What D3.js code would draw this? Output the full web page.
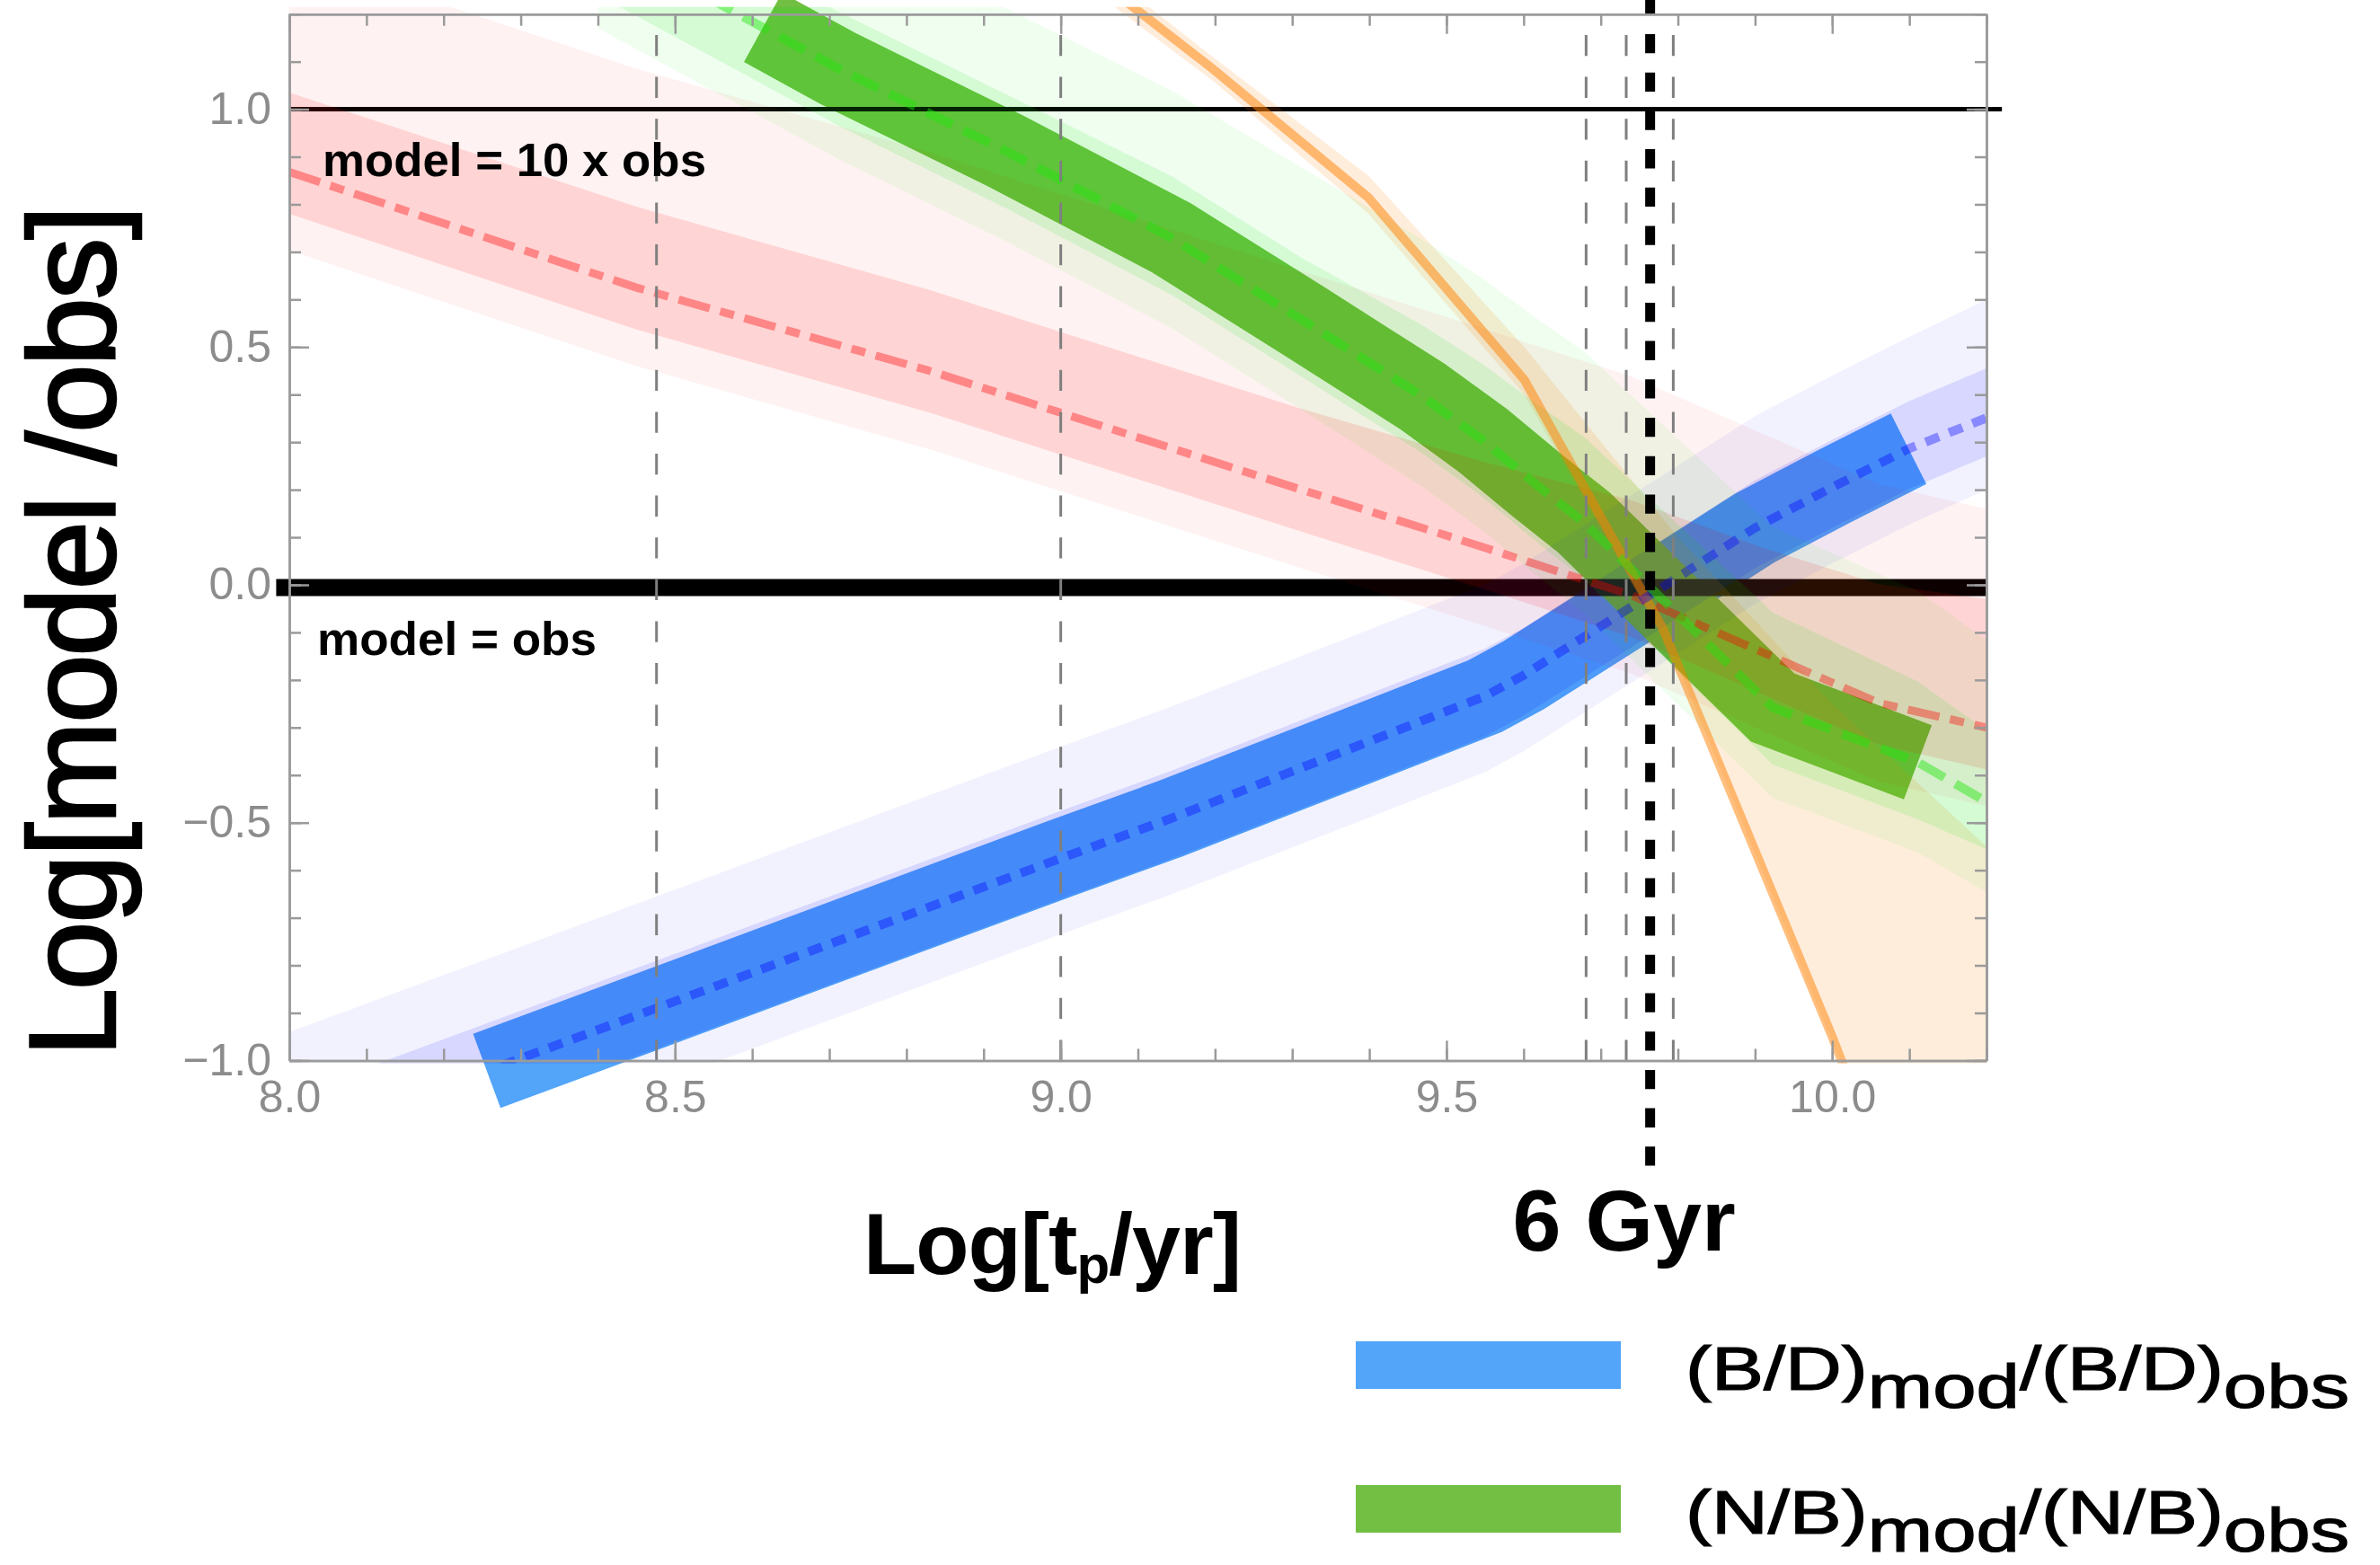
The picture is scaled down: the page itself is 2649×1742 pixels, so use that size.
<!DOCTYPE html>
<html>
<head>
<meta charset="utf-8">
<script src="https://cdn.jsdelivr.net/npm/d3@7"></script>
<style>
  body { margin: 0; background: #fff; }
  svg { display: block; }
  text { font-family: "Liberation Sans", Arial, Helvetica, sans-serif; }
</style>
</head>
<body>
<div class="graph"></div>
<script>
// (B/D)mod/(B/D)obs  - blue
var blueX       = [8.0,   8.256,  8.476, 9.0,    9.14,   9.37,   9.55,   9.60,  9.80,   9.90,  10.0,  10.099, 10.2];
var blueMid     = [-1.175, -1.022, -0.89, -0.575, -0.493, -0.348, -0.234, -0.19, 0.016,  0.12,  0.205, 0.286,  0.351];
var blueInnerHi = [-1.075, -0.922, -0.79, -0.475, -0.393, -0.248, -0.134, -0.09, 0.116,  0.22,  0.305, 0.386,  0.455];
var blueInnerLo = [-1.26,  -1.107, -0.975, -0.66, -0.578, -0.433, -0.319, -0.275, -0.069, 0.035, 0.12, 0.201,  0.27];
var blueOuterHi = [-0.94,  -0.787, -0.655, -0.34, -0.258, -0.113, 0.001,  0.045, 0.251,  0.355, 0.44,  0.521,  0.60];
var blueOuterLo = [-1.335, -1.182, -1.05, -0.735, -0.653, -0.508, -0.394, -0.35, -0.144, -0.04, 0.045, 0.126,  0.20];
var blueThick   = [8.256, 10.099];

// (N/B)mod/(N/B)obs  - green
var greenX       = [8.40, 8.614, 8.712, 8.929, 9.143, 9.314, 9.469, 9.547, 9.617, 9.679, 9.923, 10.111, 10.2];
var greenMid     = [1.36, 1.172, 1.085, 0.912, 0.730, 0.556, 0.396, 0.304, 0.21,  0.13,  -0.258, -0.373, -0.456];
var greenInnerHi = [1.48, 1.292, 1.205, 1.032, 0.86,  0.686, 0.546, 0.464, 0.38,  0.31,  -0.058, -0.203, -0.306];
var greenInnerLo = [1.24, 1.052, 0.965, 0.792, 0.61,  0.436, 0.276, 0.184, 0.09,  0.01,  -0.378, -0.493, -0.556];
var greenOuterHi = [1.66, 1.472, 1.385, 1.212, 1.04,  0.876, 0.726, 0.644, 0.56,  0.49,  0.122,  -0.013, -0.116];
var greenOuterLo = [1.17, 0.982, 0.895, 0.722, 0.54,  0.366, 0.206, 0.114, 0.02,  -0.06, -0.448, -0.563, -0.646];
var greenThick   = [8.614, 10.111];

// red dash-dot model
var redX       = [8.0,   8.45,  8.83,  9.31,  9.55,   9.74,   9.91,   10.06,  10.2];
var redMid     = [0.868, 0.625, 0.45,  0.201, 0.078,  -0.022, -0.142, -0.248, -0.30];
var redInnerHi = [1.035, 0.795, 0.62,  0.371, 0.258,  0.178,  0.078,  0.002,  -0.03];
var redInnerLo = [0.78,  0.537, 0.362, 0.113, -0.01,  -0.11,  -0.23,  -0.336, -0.388];
var redOuterHi = [1.328, 1.085, 0.91,  0.661, 0.538,  0.438,  0.318,  0.212,  0.16];
var redOuterLo = [0.703, 0.46,  0.285, 0.036, -0.087, -0.187, -0.307, -0.413, -0.465];

// orange model
var orangeX      = [9.05, 9.197, 9.399, 9.601, 9.78,  10.0,  10.06];
var orangeMid    = [1.27, 1.085, 0.814, 0.431, -0.09, -0.95, -1.2];
var orangeBandX  = [9.0,  9.197, 9.399, 9.601, 9.80,  10.0,  10.2];
var orangeBandHi = [1.36, 1.11,  0.86,  0.50,  0.10,  -0.25, -0.55];
var orangeBandLo = [1.30, 1.06,  0.78,  0.40,  -0.17, -0.96, -1.75];

// reference levels and ages
var refLevels  = [1.0, 0.0];
var markerAges = [8.476, 9.0, 9.681, 9.733, 9.794];
var sixGyr     = 9.764;

var xTicks = [8.0, 8.5, 9.0, 9.5, 10.0];
var yTicks = [-1.0, -0.5, 0.0, 0.5, 1.0];

var legendLabels = [
  { name: '(B/D)', color: '#52a5f9' },
  { name: '(N/B)', color: '#72bf44' }
];

var width = 2649, height = 1742;

var x = d3.scaleLinear().domain([8, 10.2]).range([322, 2211]);
var y = d3.scaleLinear().domain([-1, 1.2]).range([1180.4, 15.7]);

var svg = d3.select('.graph').append('svg')
  .attr('width', width)
  .attr('height', height);

svg.append('defs').append('clipPath').attr('id', 'plot')
  .append('rect')
  .attr('x', x(8) - 1).attr('y', y(1.2) - 8)
  .attr('width', x(10.2) - x(8) + 9)
  .attr('height', y(-1) - y(1.2) + 11);

var line = d3.line().x(d => x(d[0])).y(d => y(d[1]));
var area = d3.area().x(d => x(d[0])).y0(d => y(d[1])).y1(d => y(d[2]));

function pts(xs, ys) { return xs.map((v, i) => [v, ys[i]]); }

// thick model lines (under the bands)
function thick(xs, ys, range, color) {
  var d = pts(xs, ys).filter(p => p[0] >= range[0] && p[0] <= range[1]);
  svg.append('path').datum(d)
    .attr('d', line)
    .attr('fill', 'none')
    .attr('stroke', color)
    .attr('stroke-width', 88)
    .attr('stroke-linecap', 'butt')
    .attr('stroke-linejoin', 'miter')
    .attr('stroke-miterlimit', 10);
}
thick(blueX, blueMid, blueThick, '#52a5f9');
thick(greenX, greenMid, greenThick, '#72bf44');

// model = obs, model = 10 x obs
svg.append('line')
  .attr('x1', x(7.983)).attr('x2', x(10.2))
  .attr('y1', y(refLevels[1]) + 3).attr('y2', y(refLevels[1]) + 3)
  .attr('stroke', '#000').attr('stroke-width', 19);
svg.append('line')
  .attr('x1', x(8.0)).attr('x2', x(10.22))
  .attr('y1', y(refLevels[0])).attr('y2', y(refLevels[0]))
  .attr('stroke', '#000').attr('stroke-width', 5);

var plot = svg.append('g').attr('clip-path', 'url(#plot)');

function band(xs, lo, hi, color, op) {
  plot.append('path')
    .datum(xs.map((v, i) => [v, lo[i], hi[i]]))
    .attr('d', area)
    .attr('fill', color)
    .attr('fill-opacity', op);
}
band(redX, redOuterLo, redOuterHi, '#ff0000', 0.05);
band(redX, redInnerLo, redInnerHi, '#ff0000', 0.12);
band(orangeBandX, orangeBandLo, orangeBandHi, '#ff8000', 0.14);
band(blueX, blueOuterLo, blueOuterHi, '#0000ff', 0.05);
band(blueX, blueInnerLo, blueInnerHi, '#0000ff', 0.11);
band(greenX, greenOuterLo, greenOuterHi, '#00e600', 0.06);
band(greenX, greenInnerLo, greenInnerHi, '#00e600', 0.11);

function centre(xs, ys, color, w, dash) {
  plot.append('path').datum(pts(xs, ys))
    .attr('d', line)
    .attr('fill', 'none')
    .attr('stroke', color)
    .attr('stroke-width', w)
    .attr('stroke-dasharray', dash);
}
centre(redX, redMid, 'rgba(255,0,0,0.37)', 9, '36 12 16 12');
centre(orangeX, orangeMid, 'rgba(255,128,0,0.5)', 10, null);
centre(blueX, blueMid, 'rgba(0,0,255,0.37)', 10, '16 12');
centre(greenX, greenMid, 'rgba(30,230,10,0.45)', 10, '32 14');

// age markers
svg.selectAll('.age').data(markerAges).enter().append('line')
  .attr('class', 'age')
  .attr('x1', d => x(d)).attr('x2', d => x(d))
  .attr('y1', y(1.2)).attr('y2', y(-1))
  .attr('stroke', '#7f7f7f').attr('stroke-width', 3)
  .attr('stroke-dasharray', '23.3 23.3')
  .attr('stroke-dashoffset', 23.3);

svg.append('line')
  .attr('x1', x(sixGyr)).attr('x2', x(sixGyr))
  .attr('y1', -4.7).attr('y2', 1298)
  .attr('stroke', '#000').attr('stroke-width', 11)
  .attr('stroke-dasharray', '21.3 21.4');

// frame and ticks
var fmt = d3.format('.1f');
var minorX = d3.range(80, 103).map(v => v / 10);
var minorY = d3.range(-10, 13).map(v => v / 10);

function styleAxis(g) {
  g.attr('font-size', 50).attr('font-family', '"Liberation Sans", Arial, Helvetica, sans-serif');
  g.selectAll('line, path').attr('stroke', '#9a9a9a').attr('stroke-width', 2.5);
  g.selectAll('text').attr('fill', '#8c8c8c');
}

function frame(axis, transform, ticks, len, labels, pad) {
  var g = svg.append('g').attr('transform', transform)
    .call(axis.tickValues(ticks).tickSizeInner(-len).tickSizeOuter(0)
      .tickPadding(pad || 0)
      .tickFormat(labels ? fmt : ''));
  styleAxis(g);
  return g;
}

frame(d3.axisBottom(x), 'translate(0,' + y(-1) + ')', minorX, 13, false);
frame(d3.axisBottom(x), 'translate(0,' + y(-1) + ')', xTicks, 22, true, 22);
frame(d3.axisTop(x), 'translate(0,' + y(1.2) + ')', minorX, 13, false);
frame(d3.axisTop(x), 'translate(0,' + y(1.2) + ')', xTicks, 22, false);
frame(d3.axisLeft(y), 'translate(' + x(8) + ',0)', minorY, 13, false);
frame(d3.axisLeft(y), 'translate(' + x(8) + ',0)', yTicks, 22, true, 20);
frame(d3.axisRight(y), 'translate(' + x(10.2) + ',0)', minorY, 13, false);
frame(d3.axisRight(y), 'translate(' + x(10.2) + ',0)', yTicks, 22, false);

// annotations
svg.append('text')
  .attr('x', x(8) + 37).attr('y', y(1) + 74)
  .attr('font-size', 52).attr('font-weight', 'bold')
  .attr('textLength', 427).attr('lengthAdjust', 'spacingAndGlyphs')
  .text('model = 10 x obs');

svg.append('text')
  .attr('x', x(8) + 31).attr('y', y(0) + 78)
  .attr('font-size', 52).attr('font-weight', 'bold')
  .attr('textLength', 311).attr('lengthAdjust', 'spacingAndGlyphs')
  .text('model = obs');

var xt = svg.append('text')
  .attr('x', 961).attr('y', 1418)
  .attr('font-size', 97).attr('font-weight', 'bold')
  .attr('textLength', 421).attr('lengthAdjust', 'spacing');
xt.append('tspan').text('Log[t');
xt.append('tspan').attr('font-size', 60).attr('dy', 10).text('p');
xt.append('tspan').attr('dy', -10).text('/yr]');

svg.append('text')
  .attr('x', x(sixGyr) - 29).attr('y', 1392)
  .attr('text-anchor', 'middle')
  .attr('font-size', 97).attr('font-weight', 'bold')
  .text('6 Gyr');

svg.append('text')
  .attr('transform', 'translate(128,1176.5) rotate(-90)')
  .attr('font-size', 138)
  .attr('stroke', '#000').attr('stroke-width', 2.5)
  .attr('textLength', 948).attr('lengthAdjust', 'spacing')
  .text('Log[model /obs]');

// legend
var leg = svg.selectAll('.leg').data(legendLabels).enter().append('g')
  .attr('class', 'leg')
  .attr('transform', (d, i) => 'translate(0,' + (i * 160) + ')');

leg.append('rect')
  .attr('x', 1509).attr('y', 1493)
  .attr('width', 295).attr('height', 53)
  .attr('fill', d => d.color);

var lt = leg.append('text')
  .attr('x', 1876).attr('y', 1546.7)
  .attr('font-size', 68)
  .attr('stroke', '#000').attr('stroke-width', 1.2)
  .attr('textLength', 739).attr('lengthAdjust', 'spacingAndGlyphs');
lt.append('tspan').text(d => d.name);
lt.append('tspan').attr('dy', 20).text('mod');
lt.append('tspan').attr('dy', -20).text(d => '/' + d.name);
lt.append('tspan').attr('dy', 20).text('obs');
</script>
</body>
</html>
